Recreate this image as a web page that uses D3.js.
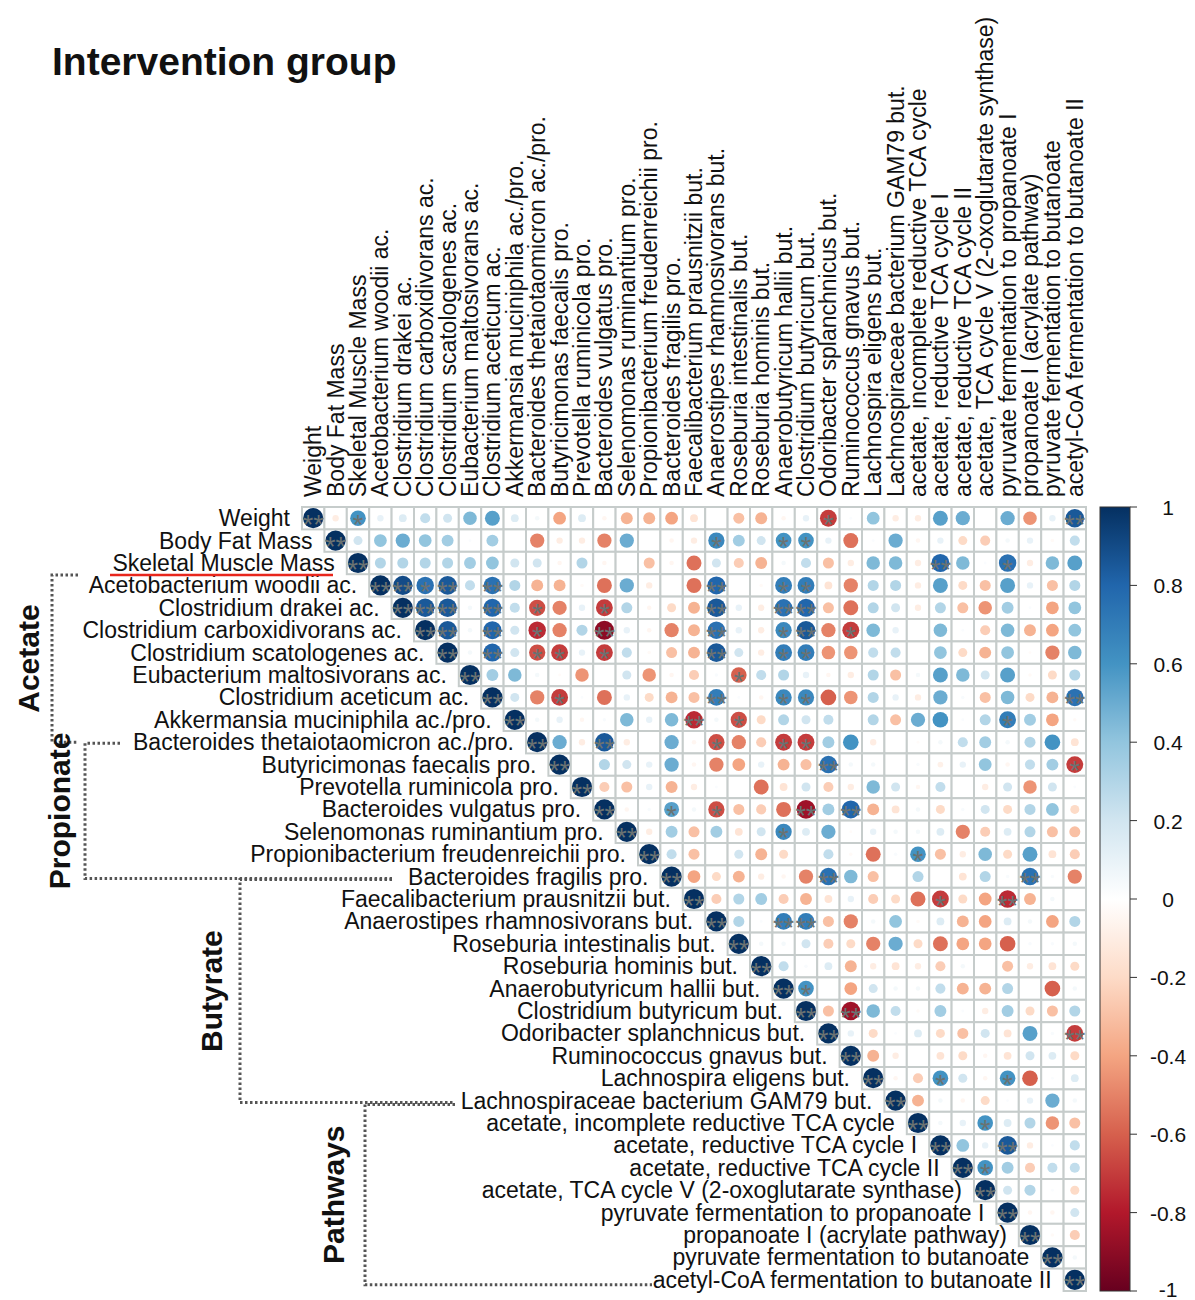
<!DOCTYPE html>
<html>
<head>
<meta charset="utf-8">
<script src="https://cdn.jsdelivr.net/npm/d3@7"></script>
<style>
  body { margin: 0; background: #fff; }
  text { font-family: "Liberation Sans", Arial, sans-serif; fill: #111; }
</style>
</head>
<body>
<div id="chart"></div>
<script>
// variable names, in matrix order
const labels = [
  'Weight', 'Body Fat Mass', 'Skeletal Muscle Mass',
  'Acetobacterium woodii ac.', 'Clostridium drakei ac.', 'Clostridium carboxidivorans ac.',
  'Clostridium scatologenes ac.', 'Eubacterium maltosivorans ac.', 'Clostridium aceticum ac.',
  'Akkermansia muciniphila ac./pro.', 'Bacteroides thetaiotaomicron ac./pro.',
  'Butyricimonas faecalis pro.', 'Prevotella ruminicola pro.', 'Bacteroides vulgatus pro.',
  'Selenomonas ruminantium pro.', 'Propionibacterium freudenreichii pro.', 'Bacteroides fragilis pro.',
  'Faecalibacterium prausnitzii but.', 'Anaerostipes rhamnosivorans but.', 'Roseburia intestinalis but.',
  'Roseburia hominis but.', 'Anaerobutyricum hallii but.', 'Clostridium butyricum but.',
  'Odoribacter splanchnicus but.', 'Ruminococcus gnavus but.', 'Lachnospira eligens but.',
  'Lachnospiraceae bacterium GAM79 but.', 'acetate, incomplete reductive TCA cycle',
  'acetate, reductive TCA cycle I', 'acetate, reductive TCA cycle II',
  'acetate, TCA cycle V (2-oxoglutarate synthase)', 'pyruvate fermentation to propanoate I',
  'propanoate I (acrylate pathway)', 'pyruvate fermentation to butanoate',
  'acetyl-CoA fermentation to butanoate II'
]

// upper triangle, row i holds columns i..34
const corrRows = [
  [1, -0.1, 0.6, 0.1, 0.15, 0.25, 0.2, 0.45, 0.55, 0.15, 0.05, -0.4, 0.15, -0.05, -0.35, -0.35, -0.4, -0.15, 0, -0.3, -0.35, -0.05, 0.1, -0.7, 0.02, 0.4, -0.1, -0.1, 0.55, 0.5, 0, 0.5, -0.45, 0.1, 0.85],
  [1, 0.2, 0.4, 0.5, 0.4, 0.35, 0.02, 0.35, 0, -0.5, -0.1, -0.1, -0.5, 0.5, 0, -0.05, -0.1, 0.65, 0.35, 0.2, 0.6, 0.6, 0.1, -0.55, 0.02, 0.5, -0.05, 0.1, -0.2, -0.25, 0.05, 0.1, -0.03, 0.25],
  [1, 0.3, 0.3, 0.3, 0.3, 0.35, 0.4, 0.2, 0.2, -0.05, 0.3, -0.05, 0, -0.3, -0.05, -0.55, 0.2, -0.25, -0.35, 0.05, 0.25, -0.3, -0.1, 0.45, 0.45, -0.1, 0.8, 0.45, 0.02, 0.75, -0.1, 0.45, 0.55],
  [1, 0.9, 0.75, 0.85, 0.25, 0.75, 0.3, -0.35, -0.35, -0.03, -0.55, 0.5, -0.1, 0, -0.55, 0.8, 0, -0.03, 0.7, 0.7, -0.15, -0.5, 0.3, 0.3, -0.1, 0.55, -0.2, -0.3, 0.55, 0.1, -0.3, 0.3],
  [1, 0.85, 0.85, 0.05, 0.8, 0.25, -0.65, -0.5, 0.1, -0.7, 0.3, -0.05, -0.2, -0.35, 0.85, 0.1, -0.1, 0.75, 0.8, -0.3, -0.55, 0.3, 0.2, -0.1, 0.3, -0.3, -0.45, 0.35, 0.02, -0.4, 0.4],
  [1, 0.85, 0.05, 0.8, 0.2, -0.75, -0.5, 0.3, -0.9, 0.1, -0.05, -0.5, -0.35, 0.75, 0.1, -0.1, 0.65, 0.85, -0.5, -0.7, 0.45, 0.1, 0, 0.45, 0.02, -0.25, 0.45, -0.35, -0.4, 0.4],
  [1, 0.05, 0.8, 0.2, -0.65, -0.7, 0.1, -0.7, 0.25, -0.03, -0.3, -0.35, 0.85, 0.2, -0.1, 0.7, 0.7, -0.45, -0.45, 0.25, 0.25, 0, 0.4, -0.2, -0.35, 0.4, -0.02, -0.5, 0.45],
  [1, 0.35, 0.45, 0.05, -0.02, -0.45, 0, 0.2, -0.45, -0.05, -0.25, 0.03, -0.6, 0.25, 0.3, 0.1, -0.05, -0.1, 0.3, -0.3, 0.05, 0.55, 0.45, 0.2, 0.55, -0.03, -0.2, 0.3],
  [1, 0.2, -0.5, -0.7, 0.02, -0.55, 0.1, -0.2, -0.35, -0.3, 0.7, 0.02, -0.05, 0.65, 0.65, -0.6, -0.45, 0.3, 0.1, -0.1, 0.5, 0.03, -0.3, 0.45, -0.2, -0.35, 0.75],
  [1, 0.05, 0.1, -0.05, 0.03, 0.45, 0.1, 0.45, -0.75, 0.05, -0.65, -0.2, 0.3, 0.2, 0.25, 0, 0.3, -0.3, 0.5, 0.6, 0.02, 0.3, 0.7, 0.35, -0.4, -0.03],
  [1, 0.5, -0.1, 0.85, -0.1, 0, 0.5, -0.05, -0.65, -0.5, -0.25, -0.7, -0.7, 0.35, 0.6, -0.1, 0, -0.02, 0.05, 0.25, 0.35, 0.05, 0.3, 0.6, -0.15],
  [1, 0, 0.3, 0.2, 0.1, 0.5, -0.05, -0.5, -0.4, 0.1, -0.35, -0.3, 0.75, 0.05, 0.05, 0, 0.03, -0.08, 0.1, 0.4, -0.05, 0.25, 0.35, -0.7],
  [1, -0.25, -0.3, 0.1, -0.35, -0.1, 0.02, 0, -0.55, -0.15, 0.2, -0.25, -0.1, 0.45, 0.2, -0.05, 0.25, 0, -0.1, 0.2, -0.45, 0.2, 0.02],
  [1, -0.05, 0.03, 0.55, 0.05, -0.65, -0.3, -0.25, -0.55, -0.85, 0.35, 0.8, -0.35, -0.15, 0.05, -0.2, 0.03, 0.2, -0.2, 0.3, 0.4, -0.2],
  [1, -0.1, 0.35, -0.3, 0.35, -0.15, 0.2, 0.65, 0.15, 0.5, -0.02, 0.1, 0.05, 0.05, 0.15, -0.5, -0.25, 0.15, 0.3, -0.3, -0.3],
  [1, 0.25, -0.3, 0, 0.2, -0.35, -0.2, 0, 0.25, -0.03, -0.55, 0.03, 0.6, -0.3, -0.1, 0.45, -0.2, 0.55, -0.15, -0.25],
  [1, -0.4, -0.2, -0.35, -0.1, -0.05, -0.5, 0.75, 0.45, -0.3, 0, 0.3, 0, -0.15, 0.3, 0.03, 0.75, 0.03, -0.5],
  [1, -0.25, 0.3, 0.35, -0.25, -0.35, -0.15, 0.1, -0.25, -0.2, -0.55, -0.7, -0.2, -0.4, -0.75, -0.35, 0.05, 0],
  [1, 0.3, 0.02, 0.7, 0.7, -0.3, -0.5, 0.05, 0.4, -0.03, 0.15, -0.35, -0.4, 0.15, 0.05, -0.4, 0.3],
  [1, 0.05, 0.05, 0.2, -0.25, -0.2, -0.5, 0.5, -0.2, -0.55, -0.4, -0.4, -0.6, 0.03, 0.03, 0.05],
  [1, 0.25, 0.03, 0.15, -0.35, -0.1, -0.15, -0.1, -0.25, 0.05, 0, -0.3, -0.1, -0.15, -0.2],
  [1, 0.6, 0, -0.4, 0.2, 0.05, 0.05, 0.25, -0.35, -0.35, 0.3, 0, -0.6, 0.05],
  [1, -0.3, -0.85, 0.45, 0.25, -0.03, 0.35, 0.02, -0.1, 0.35, -0.2, -0.3, 0.3],
  [1, 0.1, -0.2, 0.02, 0.15, -0.2, -0.3, 0.2, -0.15, 0.55, 0.03, -0.7],
  [1, -0.35, -0.1, 0, -0.15, -0.2, -0.05, -0.15, 0.2, 0.15, -0.2],
  [1, -0.05, -0.25, 0.6, 0.2, -0.05, 0.6, -0.6, 0.02, 0.15],
  [1, -0.35, 0.05, -0.05, -0.2, 0.02, 0.1, 0.5, 0.05],
  [1, 0.05, 0.1, 0.6, 0.15, 0.3, -0.45, -0.3],
  [1, 0.4, 0.1, 0.85, -0.1, 0.02, 0.25],
  [1, 0.6, 0.35, -0.25, 0.25, 0.25],
  [1, 0.2, 0.3, 0.02, -0.2],
  [1, -0.05, -0.05, 0.2],
  [1, -0.03, -0.25],
  [1, 0.05],
  [1]
]

// significance marks off the diagonal: [row, col, number of stars]
const stars = [
  [0, 2, 1], [0, 23, 1], [0, 34, 2],
  [1, 18, 1], [1, 21, 1], [1, 22, 1],
  [2, 28, 2], [2, 31, 1],
  [3, 4, 2], [3, 5, 1], [3, 6, 2], [3, 8, 2], [3, 18, 2], [3, 21, 1], [3, 22, 1],
  [4, 5, 2], [4, 6, 2], [4, 8, 2], [4, 10, 1], [4, 13, 1], [4, 18, 2], [4, 21, 2], [4, 22, 2],
  [5, 6, 2], [5, 8, 2], [5, 10, 1], [5, 13, 2], [5, 18, 2], [5, 21, 1], [5, 22, 2], [5, 24, 1],
  [6, 8, 2], [6, 10, 1], [6, 11, 1], [6, 13, 1], [6, 18, 2], [6, 21, 1], [6, 22, 1],
  [7, 19, 1],
  [8, 11, 1], [8, 18, 2], [8, 21, 1], [8, 22, 1], [8, 34, 2],
  [9, 17, 2], [9, 19, 1], [9, 31, 1],
  [10, 13, 2], [10, 18, 1], [10, 21, 1], [10, 22, 1],
  [11, 23, 2], [11, 34, 1],
  [13, 16, 1], [13, 18, 1], [13, 22, 2], [13, 24, 2],
  [14, 21, 1], [15, 27, 1],
  [16, 23, 2], [16, 32, 2],
  [17, 28, 1], [17, 31, 2],
  [18, 21, 2], [18, 22, 2],
  [21, 22, 1], [22, 24, 2], [23, 34, 2],
  [25, 28, 1], [25, 31, 1],
  [27, 30, 1], [28, 31, 2], [29, 30, 1]
]

// group brackets: first row, last row
const groupNames = ['Acetate', 'Propionate', 'Butyrate', 'Pathways']
const groupRows = [[2, 10], [10, 16], [16, 26], [26, 34]]

const legendTicks = [1, 0.8, 0.6, 0.4, 0.2, 0, -0.2, -0.4, -0.6, -0.8, -1]
const palette = ['#67001F', '#B2182B', '#D6604D', '#F4A582', '#FDDBC7', '#FFFFFF',
  '#D1E5F0', '#92C5DE', '#4393C3', '#2166AC', '#053061']

const width = 1195
const height = 1300
const n = labels.length

const svg = d3.select('#chart')
  .append('svg')
  .attr('width', width)
  .attr('height', height)

const idx = d3.range(n)
const x = d3.scaleBand().domain(idx).range([302, 1086])
const y = d3.scaleBand().domain(idx).range([507, 1291])
const cell = x.bandwidth()

const color = d3.scaleLinear()
  .domain(d3.range(11).map(i => -1 + i * 0.2))
  .range(palette)
  .interpolate(d3.interpolateRgb)

const cells = []
corrRows.forEach((row, i) => {
  row.forEach((v, k) => cells.push({ r: i, c: i + k, v: v }))
})

const starMap = new Map(stars.map(s => [s[0] + '-' + s[1], s[2]]))
idx.forEach(i => starMap.set(i + '-' + i, 2))

svg.append('text')
  .attr('x', 52)
  .attr('y', 75)
  .style('font-size', '39px')
  .style('font-weight', 'bold')
  .text('Intervention group')

// grid
svg.append('g')
  .selectAll('rect')
  .data(cells)
  .join('rect')
  .attr('x', d => x(d.c))
  .attr('y', d => y(d.r))
  .attr('width', cell)
  .attr('height', cell)
  .attr('fill', '#fff')
  .attr('stroke', '#c6cccb')
  .attr('stroke-width', 2)

// circles, area ~ |r|
svg.append('g')
  .selectAll('circle')
  .data(cells.filter(d => d.v !== 0))
  .join('circle')
  .attr('cx', d => x(d.c) + cell / 2)
  .attr('cy', d => y(d.r) + cell / 2)
  .attr('r', d => 0.45 * Math.sqrt(Math.abs(d.v)) * cell)
  .attr('fill', d => color(d.v))

const starSize = 27
svg.append('g')
  .selectAll('text')
  .data(cells.filter(d => starMap.has(d.r + '-' + d.c)))
  .join('text')
  .attr('x', d => x(d.c) + cell / 2)
  .attr('y', d => y(d.r) + cell / 2 + starSize * 0.58)
  .attr('text-anchor', 'middle')
  .style('font-size', starSize + 'px')
  .style('fill', '#6a7272')
  .text(d => '*'.repeat(starMap.get(d.r + '-' + d.c)))

// column labels
svg.append('g')
  .selectAll('text')
  .data(labels)
  .join('text')
  .attr('transform', (d, i) => `translate(${x(i) + cell / 2 + 8}, 497) rotate(-90)`)
  .style('font-size', '23px')
  .text(d => d)

// row labels
svg.append('g')
  .selectAll('text')
  .data(labels)
  .join('text')
  .attr('x', (d, i) => x(i) - 12)
  .attr('y', (d, i) => y(i) + cell / 2 + 8)
  .attr('text-anchor', 'end')
  .style('font-size', '23px')
  .text(d => d)

// red underline under Skeletal Muscle Mass
svg.append('line')
  .attr('x1', 110).attr('x2', 333)
  .attr('y1', y(2) + cell / 2 + 12).attr('y2', y(2) + cell / 2 + 12)
  .attr('stroke', '#e8261c')
  .attr('stroke-width', 2.5)

// dotted brackets
const bx = [52, 85, 240, 365]          // vertical line positions
const bTop = [78, 120, 392, 455]       // end of top stub
const bBottom = [78, 392, 455, 652]    // end of bottom line
const bOff = [[12, 0], [1, 2], [3, 2], [4, 5]]
const labelBase = [39, 70, 222, 344]

groupRows.forEach((g, k) => {
  const y0 = y(g[0]) + cell / 2 + bOff[k][0]
  const y1 = y(g[1]) + cell / 2 + bOff[k][1]
  svg.append('path')
    .attr('d', `M${bTop[k]},${y0}H${bx[k]}V${y1}H${bBottom[k]}`)
    .attr('fill', 'none')
    .attr('stroke', '#555')
    .attr('stroke-width', 3)
    .attr('stroke-dasharray', '2.5,2.5')
  svg.append('text')
    .attr('transform', `translate(${labelBase[k]}, ${(y0 + y1) / 2}) rotate(-90)`)
    .attr('text-anchor', 'middle')
    .style('font-size', '30px')
    .style('font-weight', 'bold')
    .text(groupNames[k])
})

// colour legend
const defs = svg.append('defs')
const grad = defs.append('linearGradient')
  .attr('id', 'corr-grad')
  .attr('x1', 0).attr('x2', 0).attr('y1', 0).attr('y2', 1)
palette.slice().reverse().forEach((c, i) => {
  grad.append('stop').attr('offset', (i * 10) + '%').attr('stop-color', c)
})

const ly = d3.scaleLinear().domain([1, -1]).range([507, 1291])

svg.append('rect')
  .attr('x', 1100)
  .attr('y', ly(1))
  .attr('width', 30)
  .attr('height', ly(-1) - ly(1))
  .attr('fill', 'url(#corr-grad)')
  .attr('stroke', '#333')
  .attr('stroke-width', 1)

const lg = svg.append('g')
lg.selectAll('line')
  .data(legendTicks)
  .join('line')
  .attr('x1', 1130).attr('x2', 1137)
  .attr('y1', d => ly(d)).attr('y2', d => ly(d))
  .attr('stroke', '#333')
lg.selectAll('text')
  .data(legendTicks)
  .join('text')
  .attr('x', 1168)
  .attr('y', d => Math.min(ly(d) + 8, 1297))
  .attr('text-anchor', 'middle')
  .style('font-size', '21px')
  .text(d => d)
</script>
</body>
</html>
